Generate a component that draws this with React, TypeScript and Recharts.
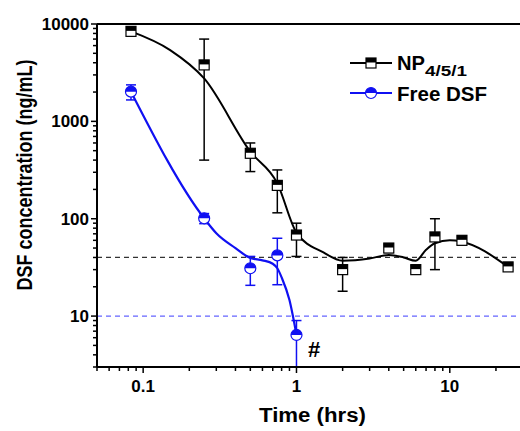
import React from 'react'
import { ComposedChart, Line, Scatter, ErrorBar, XAxis, YAxis, ReferenceLine } from 'recharts'

// NP4/5/1 measured points (time in hrs, conc in ng/mL)
const npTime = [0.0833, 0.25, 0.5, 0.75, 1, 2, 4, 6, 8, 12, 24]
const npMean = [8400, 3800, 470, 220, 68, 30, 50, 30, 65, 60, 32]
const npLow = [8000, 400, 305, 115, 41, 18, 45, 28, 30, 54, 30]
const npHigh = [8800, 7000, 600, 317, 90, 40, 54, 33, 100, 65, 34]

// Free DSF measured points
const freeTime = [0.0833, 0.25, 0.5, 0.75, 1]
const freeMean = [2020, 101, 31, 42, 6.4]
const freeLow = [1660, 89, 20.7, 21, 3]
const freeHigh = [2370, 113, 41, 63, 9]

// smoothed curves as drawn in the figure
const npCurveTime = [0.0833, 0.15, 0.25, 0.5, 0.75, 1, 1.5, 2, 3, 4, 5, 6, 7, 8, 10, 12, 24]
const npCurveVal = [8400, 5400, 2760, 489, 231, 72, 45, 37, 39, 42.5, 40, 37, 48, 56, 60, 58, 32]
const freeCurveTime = [0.0833, 0.25, 0.3, 0.4, 0.5, 0.6, 0.7, 0.75, 0.8, 0.9, 1]
const freeCurveVal = [2020, 101, 71, 50, 39.5, 37.4, 34.5, 31, 25, 14.6, 6.4]

// detection limits
const npLimit = 40
const freeLimit = 10

const xMajor = [0.1, 1, 10]
const yMajor = [10, 100, 1000, 10000]
const xDomain = [0.05, 28.7]
const yDomain = [3, 10000]

const font = '"Liberation Sans", Arial, sans-serif'
const blue = '#1010f2'

const minorTicks = (decades: number[], lo: number, hi: number) => {
  const out: number[] = []
  decades.forEach((d) => {
    for (let m = 2; m <= 9; m++) {
      const v = +(m * d).toPrecision(6)
      if (v >= lo && v <= hi) out.push(v)
    }
  })
  return out
}

const xTicks = [...xMajor, ...minorTicks([0.01, 0.1, 1, 10], xDomain[0], xDomain[1])].sort((a, b) => a - b)
const yTicks = [...yMajor, ...minorTicks([1, 10, 100, 1000], yDomain[0], yDomain[1])].sort((a, b) => a - b)

const build = (t: number[], v: number[], lo?: number[], hi?: number[]) =>
  t.map((time, i) => ({
    t: time,
    v: v[i],
    err: lo && hi ? [v[i] - lo[i], hi[i] - v[i]] : undefined
  }))

const npPoints = build(npTime, npMean, npLow, npHigh)
const freePoints = build(freeTime, freeMean, freeLow, freeHigh)
const npCurve = build(npCurveTime, npCurveVal)
const freeCurve = build(freeCurveTime, freeCurveVal)

const XTick = ({ x, y, payload }: any) => {
  const major = xMajor.includes(payload.value)
  return (
    <g>
      <line x1={x} x2={x} y1={y} y2={y + (major ? 6 : 4)} stroke="#000" strokeWidth={1.5} />
      {major && (
        <text x={x} y={y + 25} textAnchor="middle" fontFamily={font} fontWeight="bold" fontSize={17} fill="#000">
          {payload.value}
        </text>
      )}
    </g>
  )
}

const YTick = ({ x, y, payload }: any) => {
  const major = yMajor.includes(payload.value)
  return (
    <g>
      <line x1={x} x2={x - (major ? 6 : 4)} y1={y} y2={y} stroke="#000" strokeWidth={1.5} />
      {major && (
        <text x={x - 8} y={y + 6} textAnchor="end" fontFamily={font} fontWeight="bold" fontSize={17} fill="#000">
          {payload.value}
        </text>
      )}
    </g>
  )
}

const SquareMark = ({ cx, cy }: any) => (
  <g>
    <rect x={cx - 5} y={cy - 5} width={10} height={10} fill="#fff" stroke="#000" strokeWidth={1.2} />
    <rect x={cx - 5} y={cy - 5} width={10} height={4.5} fill="#000" />
  </g>
)

const CircleMark = ({ cx, cy }: any) => (
  <g>
    <circle cx={cx} cy={cy} r={5.5} fill="#fff" stroke={blue} strokeWidth={1.2} />
    <path d={`M${cx - 5.5},${cy} A5.5,5.5 0 0 1 ${cx + 5.5},${cy} Z`} fill={blue} />
  </g>
)

export default function App() {
  return (
    <div style={{ position: 'relative', width: 520, height: 431, background: '#fff' }}>
      <style>{'body{margin:0}'}</style>
      <ComposedChart width={520} height={431} margin={{ top: 24, right: 0, bottom: 0, left: 0 }}>
        <XAxis
          dataKey="t"
          type="number"
          scale="log"
          domain={xDomain}
          allowDataOverflow
          ticks={xTicks}
          interval={0}
          tick={<XTick />}
          tickLine={false}
          tickSize={0}
          tickMargin={0}
          height={64}
          axisLine={{ stroke: '#000', strokeWidth: 2 }}
        />
        <YAxis
          dataKey="v"
          type="number"
          scale="log"
          domain={yDomain}
          allowDataOverflow
          ticks={yTicks}
          interval={0}
          tick={<YTick />}
          tickLine={false}
          tickSize={0}
          tickMargin={0}
          width={97}
          axisLine={{ stroke: '#000', strokeWidth: 2 }}
        />
        <ReferenceLine y={10000} stroke="#000" strokeWidth={2} />
        <ReferenceLine y={npLimit} stroke="#333" strokeWidth={1.2} strokeDasharray="5 4" />
        <ReferenceLine y={freeLimit} stroke="#6464ff" strokeWidth={1.4} strokeDasharray="5 4" />
        <Line data={npCurve} dataKey="v" type="monotone" stroke="#000" strokeWidth={2} dot={false} isAnimationActive={false} />
        <Line data={freeCurve} dataKey="v" type="monotone" stroke={blue} strokeWidth={2.2} dot={false} isAnimationActive={false} />
        <Scatter data={npPoints} dataKey="v" shape={<SquareMark />} isAnimationActive={false}>
          <ErrorBar dataKey="err" direction="y" width={5} stroke="#000" strokeWidth={1.5} />
        </Scatter>
        <Scatter data={freePoints} dataKey="v" shape={<CircleMark />} isAnimationActive={false}>
          <ErrorBar dataKey="err" direction="y" width={5} stroke={blue} strokeWidth={1.5} />
        </Scatter>
      </ComposedChart>
      <svg
        width={520}
        height={431}
        style={{ position: 'absolute', left: 0, top: 0, pointerEvents: 'none' }}
        fontFamily={font}
        fontWeight="bold"
      >
        {/* legend */}
        <line x1={350} x2={392} y1={63} y2={63} stroke="#000" strokeWidth={2} />
        <SquareMark cx={371} cy={63} />
        <text x={397} y={69.5} fontSize={20} textLength={28} lengthAdjust="spacingAndGlyphs">NP</text>
        <text x={425} y={76} fontSize={15} textLength={42} lengthAdjust="spacingAndGlyphs">4/5/1</text>
        <line x1={350} x2={392} y1={93} y2={93} stroke={blue} strokeWidth={2} />
        <CircleMark cx={371} cy={93} />
        <text x={397} y={101} fontSize={20} textLength={90} lengthAdjust="spacingAndGlyphs">Free DSF</text>
        {/* significance mark */}
        <text x={308} y={357} fontSize={22}>#</text>
        {/* axis titles */}
        <text x={312.5} y={422} textAnchor="middle" fontSize={20} textLength={107} lengthAdjust="spacingAndGlyphs">
          Time (hrs)
        </text>
        <text transform="translate(32,175) scale(1.2,1) rotate(-90)" textAnchor="middle" fontSize={18}>
          DSF concentration (ng/mL)
        </text>
      </svg>
    </div>
  )
}
